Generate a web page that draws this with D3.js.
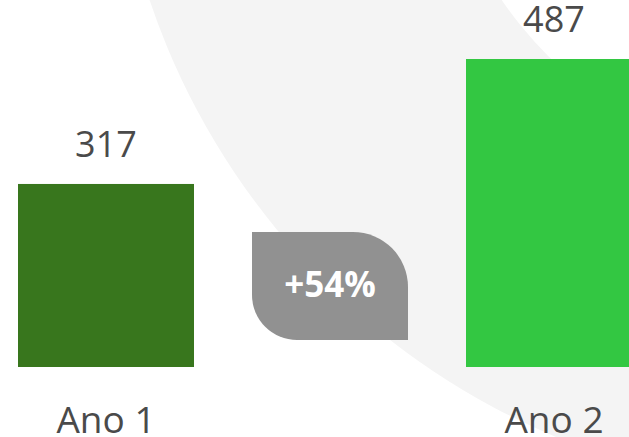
<!DOCTYPE html>
<html>
<head>
<meta charset="utf-8">
<script src="https://cdn.jsdelivr.net/npm/d3@7"></script>
<style>
  html, body { margin: 0; padding: 0; background: #ffffff; }
  svg { display: block; }
</style>
</head>
<body>
<svg id="chart" width="629" height="437"></svg>
<script>
const categories = ["Ano 1", "Ano 2"];
const values = [317, 487];
const barColors = ["#38761d", "#33c742"];
const changeLabel = "+54%";

const W = 629, H = 437;
const svg = d3.select("#chart");

// background ring
const ring = d3.arc().innerRadius(405).outerRadius(723).startAngle(0).endAngle(2 * Math.PI);
svg.append("path")
  .attr("d", ring())
  .attr("transform", "translate(835,-230)")
  .attr("fill", "#f4f4f4");

const x = d3.scaleBand().domain(categories).range([18, 642]).paddingInner(272 / 448).paddingOuter(0);
const yMin = 68;
const y = d3.scaleLinear().domain([yMin, 487]).range([367, 59]);

svg.selectAll("rect.bar")
  .data(values)
  .join("rect")
  .attr("class", "bar")
  .attr("x", (d, i) => x(categories[i]))
  .attr("width", x.bandwidth())
  .attr("y", d => y(d))
  .attr("height", d => y(yMin) - y(d))
  .attr("fill", (d, i) => barColors[i]);

svg.selectAll("text.val")
  .data(values)
  .join("text")
  .attr("class", "val")
  .attr("x", (d, i) => x(categories[i]) + x.bandwidth() / 2)
  .attr("y", d => y(d) - 27)
  .attr("text-anchor", "middle")
  .attr("font-family", "'Open Sans', sans-serif")
  .attr("font-size", 36)
  .attr("fill", "#4a4a4a")
  .text(d => d);

svg.selectAll("text.cat")
  .data(categories)
  .join("text")
  .attr("class", "cat")
  .attr("x", d => x(d) + x.bandwidth() / 2)
  .attr("y", 433)
  .attr("text-anchor", "middle")
  .attr("font-family", "'Open Sans', sans-serif")
  .attr("font-size", 37)
  .attr("fill", "#4a4a4a")
  .text(d => d);

// badge
const bx = 252, by = 232, bw = 156, bh = 108, r1 = 55, r2 = 45;
const p = d3.path();
p.moveTo(bx, by);
p.lineTo(bx + bw - r1, by);
p.arcTo(bx + bw, by, bx + bw, by + r1, r1);
p.lineTo(bx + bw, by + bh);
p.lineTo(bx + r2, by + bh);
p.arcTo(bx, by + bh, bx, by + bh - r2, r2);
p.closePath();
svg.append("path").attr("d", p.toString()).attr("fill", "#919191");

svg.append("text")
  .attr("x", bx + bw / 2)
  .attr("y", 297)
  .attr("text-anchor", "middle")
  .attr("font-family", "'Open Sans', sans-serif")
  .attr("font-weight", "bold")
  .attr("font-size", 35)
  .attr("fill", "#ffffff")
  .text(changeLabel);
</script>
</body>
</html>
